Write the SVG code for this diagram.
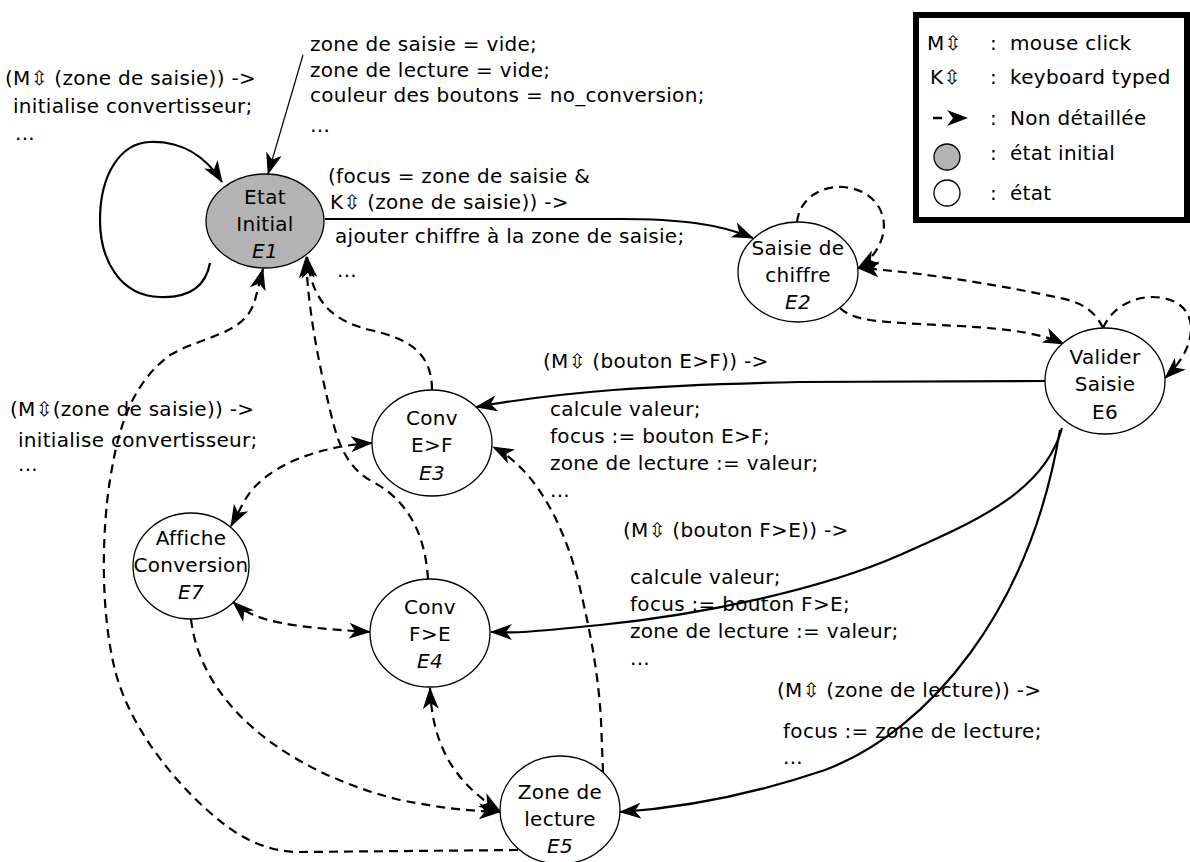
<svg xmlns="http://www.w3.org/2000/svg" width="1190" height="862" viewBox="0 0 1190 862">
<style>
.t{font-family:"DejaVu Sans",Verdana,sans-serif;font-size:20px;fill:#000;letter-spacing:0.3px}
.n{text-anchor:middle}
.i{font-style:italic}
.node{fill:#fff;stroke:#000;stroke-width:1.3}
.gray{fill:#b3b3b3}
.s{fill:none;stroke:#000;stroke-width:2.2;marker-end:url(#ah)}
.thin{fill:none;stroke:#000;stroke-width:1.2;marker-end:url(#ah)}
.d{fill:none;stroke:#000;stroke-width:2.2;stroke-dasharray:9 6;marker-end:url(#ah)}
.b{marker-start:url(#ah)}
</style>
<defs>
<marker id="ah" viewBox="0 0 22 16" refX="21" refY="8" markerWidth="22" markerHeight="16" markerUnits="userSpaceOnUse" orient="auto-start-reverse">
<path d="M0,0 L22,8 L0,16 L6,8 Z" fill="#000"/>
</marker>
</defs>
<rect width="1190" height="862" fill="#fff"/>

<g id="connectors">
<path id="c-init" class="thin" d="M 303,55 L 268,174"/>
<path id="c-e1-loop" class="s" d="M 210,263 C 205,290 185,298 160,297 C 120,296 100,260 100,220 C 100,175 120,143 150,142 C 180,141 205,155 222,182"/>
<path id="c-e1-e2" class="s" d="M 325,219 L 620,219 C 680,219 720,224 753,238"/>
<path id="c-e2-loop" class="d" d="M 797,222 C 800,197 822,186 843,187 C 872,189 890,212 882,238 C 877,253 868,262 858,268"/>
<path id="c-e6-e2" class="d" d="M 1103,328 C 1095,310 1080,302 1060,298 C 1000,285 920,272 858,268"/>
<path id="c-e2-e6" class="d" d="M 840,308 C 855,322 880,322 960,326 C 1010,329 1040,333 1064,344"/>
<path id="c-e6-loop" class="d" d="M 1103,328 C 1115,300 1150,290 1175,302 C 1200,315 1195,350 1165,378"/>
<path id="c-e6-e3" class="s" d="M 1045,381 L 800,382 C 650,385 560,392 476,407"/>
<path id="c-e6-e4" class="s" d="M 1062,428 C 1045,490 980,520 900,555 S 700,615 600,625 S 520,632 491,632"/>
<path id="c-e6-e5" class="s" d="M 1060,430 C 1030,610 930,730 825,770 C 745,797 680,808 620,812"/>
<path id="c-e3-e1" class="d" d="M 432,390 C 432,350 405,338 370,330 C 330,320 312,300 307,257"/>
<path id="c-e4-e1" class="d" d="M 428,579 C 425,530 405,500 375,483 C 345,468 337,440 330,410 C 318,360 308,310 306,257"/>
<path id="c-e5-e1" class="d" d="M 518,850 L 300,852 C 270,852 245,840 225,825 C 180,790 130,730 115,670 C 100,610 102,530 110,480 C 118,430 130,385 170,355 C 205,335 245,335 255,300 L 263,269"/>
<path id="c-e5-e3" class="d" d="M 603,772 L 601,720 C 598,670 590,630 578,580 C 565,530 538,470 493,447"/>
<path id="c-e3-e7" class="d b" d="M 372,443 C 320,446 265,465 245,500 L 231,526"/>
<path id="c-e7-e4" class="d b" d="M 233,602 C 255,622 290,627 370,632"/>
<path id="c-e7-e5" class="d" d="M 191,619 C 200,700 280,770 400,800 C 440,808 470,811 500,812"/>
<path id="c-e4-e5" class="d b" d="M 430,688 C 432,740 450,780 500,811"/>
</g>

<g id="E1">
<ellipse class="node gray" cx="265" cy="221" rx="59" ry="47"/>
<text class="t n" x="265" y="204">Etat</text>
<text class="t n" x="265" y="231">Initial</text>
<text class="t n i" x="265" y="258">E1</text>
</g>
<g id="E2">
<ellipse class="node" cx="798" cy="272" rx="60" ry="50"/>
<text class="t n" x="798" y="255">Saisie de</text>
<text class="t n" x="798" y="282">chiffre</text>
<text class="t n i" x="798" y="309">E2</text>
</g>
<g id="E6">
<ellipse class="node" cx="1105" cy="381" rx="60" ry="53"/>
<text class="t n" x="1105" y="364">Valider</text>
<text class="t n" x="1105" y="391">Saisie</text>
<text class="t n" x="1105" y="419">E6</text>
</g>
<g id="E3">
<ellipse class="node" cx="432" cy="443" rx="60" ry="53"/>
<text class="t n" x="432" y="425">Conv</text>
<text class="t n" x="432" y="452">E&gt;F</text>
<text class="t n i" x="432" y="480">E3</text>
</g>
<g id="E7">
<ellipse class="node" cx="191" cy="566" rx="58" ry="53"/>
<text class="t n" x="191" y="545">Affiche</text>
<text class="t n" x="191" y="572">Conversion</text>
<text class="t n i" x="191" y="599">E7</text>
</g>
<g id="E4">
<ellipse class="node" cx="430" cy="633" rx="60" ry="54"/>
<text class="t n" x="430" y="614">Conv</text>
<text class="t n" x="430" y="641">F&gt;E</text>
<text class="t n i" x="430" y="668">E4</text>
</g>
<g id="E5">
<ellipse class="node" cx="560" cy="810" rx="60" ry="54"/>
<text class="t n" x="560" y="799">Zone de</text>
<text class="t n" x="560" y="826">lecture</text>
<text class="t n i" x="560" y="853">E5</text>
</g>

<g id="labels">
<text class="t" x="310" y="51">zone de saisie = vide;</text>
<text class="t" x="310" y="77">zone de lecture = vide;</text>
<text class="t" x="310" y="102">couleur des boutons = no_conversion;</text>
<text class="t" x="310" y="132">…</text>
<text class="t" x="5" y="85">(M⇳ (zone de saisie)) -&gt;</text>
<text class="t" x="13" y="113">initialise convertisseur;</text>
<text class="t" x="15" y="140">...</text>
<text class="t" x="328" y="183">(focus = zone de saisie &amp;</text>
<text class="t" x="330" y="209">K⇳ (zone de saisie)) -&gt;</text>
<text class="t" x="335" y="243">ajouter chiffre à la zone de saisie;</text>
<text class="t" x="337" y="277">...</text>
<text class="t" x="543" y="368">(M⇳ (bouton E&gt;F)) -&gt;</text>
<text class="t" x="550" y="416">calcule valeur;</text>
<text class="t" x="550" y="443">focus := bouton E&gt;F;</text>
<text class="t" x="550" y="470">zone de lecture := valeur;</text>
<text class="t" x="550" y="497">...</text>
<text class="t" x="623" y="537">(M⇳ (bouton F&gt;E)) -&gt;</text>
<text class="t" x="630" y="584">calcule valeur;</text>
<text class="t" x="630" y="611">focus := bouton F&gt;E;</text>
<text class="t" x="630" y="638">zone de lecture := valeur;</text>
<text class="t" x="630" y="665">...</text>
<text class="t" x="777" y="697">(M⇳ (zone de lecture)) -&gt;</text>
<text class="t" x="783" y="738">focus := zone de lecture;</text>
<text class="t" x="783" y="764">...</text>
<text class="t" x="10" y="416">(M⇳(zone de saisie)) -&gt;</text>
<text class="t" x="18" y="447">initialise convertisseur;</text>
<text class="t" x="18" y="471">...</text>
</g>

<g id="legend">
<rect x="916" y="15" width="271" height="205" fill="#fff" stroke="#000" stroke-width="6"/>
<text class="t" x="927" y="50">M⇳</text>
<text class="t" x="990" y="50">:</text>
<text class="t" x="1010" y="50">mouse click</text>
<text class="t" x="930" y="84">K⇳</text>
<text class="t" x="990" y="84">:</text>
<text class="t" x="1010" y="84">keyboard typed</text>
<line x1="933" y1="118" x2="942" y2="118" stroke="#000" stroke-width="2.5"/>
<path d="M 947,110 L 968,118 L 947,126 L 953,118 Z" fill="#000"/>
<text class="t" x="990" y="125">:</text>
<text class="t" x="1010" y="125">Non détaillée</text>
<circle cx="947" cy="157" r="13" fill="#b3b3b3" stroke="#000" stroke-width="1.3"/>
<text class="t" x="990" y="160">:</text>
<text class="t" x="1010" y="160">état initial</text>
<circle cx="947" cy="193" r="13" fill="#fff" stroke="#000" stroke-width="1.3"/>
<text class="t" x="990" y="200">:</text>
<text class="t" x="1010" y="200">état</text>
</g>
</svg>
